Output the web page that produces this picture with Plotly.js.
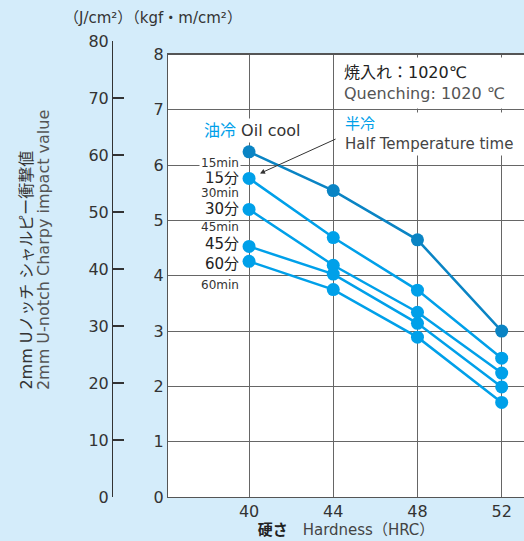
<!DOCTYPE html>
<html>
<head>
<meta charset="utf-8">
<script src="https://cdn.plot.ly/plotly-3.0.1.min.js"></script>
<style>html,body{margin:0;padding:0;background:#d4ecfa;}#chart{width:524px;height:541px;}</style>
</head>
<body>
<div id="chart"></div>
<script>
// Data (hardness HRC vs Charpy impact value kgf·m/cm²)
const hardness = [40, 44, 48, 52];
const oilCool = [6.24, 5.54, 4.65, 3.0];
const half15 = [5.76, 4.69, 3.74, 2.51];
const half30 = [5.2, 4.19, 3.34, 2.24];
const half45 = [4.53, 4.03, 3.14, 1.99];
const half60 = [4.26, 3.75, 2.89, 1.71];
const halfSeries = [half15, half30, half45, half60];
const halfNames = ['15分', '30分', '45分', '60分'];
const minNames = ['15min', '30min', '45min', '60min'];
const xTicks = [40, 44, 48, 52];
const yTicksKgf = [0, 1, 2, 3, 4, 5, 6, 7, 8];
const yTicksJ = [0, 10, 20, 30, 40, 50, 60, 70, 80];

const FONT = 'DejaVu Sans, Noto Sans CJK JP, sans-serif';
const HALF_C = '#00a0e9';
const OIL_C = '#0a84c4';

const traces = [];
halfSeries.forEach((s, i) => {
  traces.push({
    x: hardness, y: s, type: 'scatter', mode: 'lines+markers',
    name: halfNames[i], showlegend: false, hoverinfo: 'skip',
    line: {color: HALF_C, width: 2.5}, marker: {color: HALF_C, size: 13}
  });
});
traces.push({
  x: hardness, y: oilCool, type: 'scatter', mode: 'lines+markers',
  name: '油冷', showlegend: false, hoverinfo: 'skip',
  line: {color: OIL_C, width: 2.5}, marker: {color: OIL_C, size: 13}
});
// dummy trace carrying the J/cm² axis
traces.push({x: [0.5], y: [null], xaxis: 'x2', yaxis: 'y2', type: 'scatter', mode: 'markers', showlegend: false, hoverinfo: 'skip'});

const annotations = [];
annotations.push({xref: 'paper', yref: 'paper', x: 0.118, y: 1.05, xanchor: 'left', yanchor: 'middle',
  text: '（J/cm²）（kgf・m/cm²）', showarrow: false, font: {family: FONT, size: 15, color: '#333'}});
annotations.push({xref: 'paper', yref: 'paper', x: 27/524, y: 0.23, xanchor: 'center', yanchor: 'bottom',
  textangle: -90, text: '2mm Uノッチ シャルピー衝撃値', showarrow: false, font: {family: FONT, size: 16, color: '#333'}});
annotations.push({xref: 'paper', yref: 'paper', x: 43/524, y: 0.23, xanchor: 'center', yanchor: 'bottom',
  textangle: -90, text: '2mm U-notch Charpy impact value', showarrow: false, font: {family: FONT, size: 16, color: '#555'}});
annotations.push({xref: 'x', yref: 'y', x: 44.22, y: 7.49, xanchor: 'left', yanchor: 'middle', align: 'left',
  text: '<span style="color:#222">焼入れ：1020℃</span><br>Quenching: 1020 ℃', showarrow: false,
  bgcolor: 'white', borderpad: 5, font: {family: FONT, size: 16, color: '#555'}});
annotations.push({xref: 'x', yref: 'y', x: 40.14, y: 6.62, xanchor: 'center', yanchor: 'middle',
  text: '<span style="color:' + HALF_C + '">油冷</span> Oil cool', showarrow: false,
  bgcolor: 'white', borderpad: 2, font: {family: FONT, size: 16, color: '#333'}});
annotations.push({xref: 'x', yref: 'y', x: 44.42, y: 6.56, xanchor: 'left', yanchor: 'middle', align: 'left',
  text: '<span style="color:' + HALF_C + '">半冷</span><br>Half Temperature time', showarrow: false,
  bgcolor: 'white', borderpad: 2, font: {family: FONT, size: 15, color: '#444'}});
annotations.push({xref: 'x', yref: 'y', x: hardness[0], y: half15[0], ax: 88, ay: -40, text: '',
  showarrow: true, arrowhead: 2, arrowsize: 1, arrowwidth: 1, arrowcolor: '#333', standoff: 12});
const minOffsets = [0.27, 0.30, 0.35, -0.42];
const nameOffsets = [0, 0, 0.04, -0.04];
halfSeries.forEach((s, i) => {
  annotations.push({xref: 'x', yref: 'y', x: 39.62, y: s[0] + nameOffsets[i], xanchor: 'right', yanchor: 'middle',
    text: halfNames[i], showarrow: false, font: {family: FONT, size: 15, color: '#222'}});
  annotations.push({xref: 'x', yref: 'y', x: 39.62, y: s[0] + minOffsets[i], xanchor: 'right', yanchor: 'middle',
    text: minNames[i], showarrow: false, bgcolor: i === 0 ? 'white' : 'rgba(0,0,0,0)', borderpad: 1,
    font: {family: FONT, size: 12, color: '#333'}});
});

const layout = {
  width: 524, height: 541,
  margin: {l: 0, r: 0, t: 41, b: 44},
  paper_bgcolor: '#d4ecfa', plot_bgcolor: 'rgba(0,0,0,0)',
  showlegend: false,
  xaxis: {
    domain: [168/524, 1], range: [36.15, 53.06], anchor: 'y',
    tickvals: xTicks, ticks: '', showgrid: true, gridcolor: '#666', gridwidth: 1,
    zeroline: false, showline: true, linecolor: '#555', linewidth: 1.2, mirror: true,
    tickfont: {family: FONT, size: 16, color: '#333'}, ticklabelstandoff: 0,
    title: {text: '<b style="color:#222">硬さ</b>　Hardness（HRC）', font: {family: FONT, size: 15, color: '#444'}, standoff: 4}
  },
  yaxis: {
    domain: [0, (497 - 54.5) / 456], range: [0, 8], anchor: 'x',
    tickvals: yTicksKgf, ticks: '', showgrid: true, gridcolor: '#666', gridwidth: 1,
    zeroline: false, showline: true, linecolor: '#555', linewidth: 1.2,
    tickfont: {family: FONT, size: 16, color: '#333'}
  },
  xaxis2: {domain: [0, 0.1], range: [0, 1], anchor: 'y2', visible: false, showgrid: false, zeroline: false},
  yaxis2: {
    domain: [0, 1], range: [0, 80], anchor: 'free', position: 112/524,
    tickvals: yTicksJ, ticks: 'inside', ticklen: 11, tickcolor: '#333', tickwidth: 1.3,
    showgrid: false, zeroline: false, showline: true, linecolor: '#333', linewidth: 1.3,
    tickfont: {family: FONT, size: 16, color: '#333'}
  },
  shapes: [{type: 'rect', xref: 'x domain', yref: 'y domain', x0: 0, x1: 1, y0: 0, y1: 1,
    fillcolor: 'white', line: {width: 0}, layer: 'below'}],
  annotations: annotations
};

Plotly.newPlot('chart', traces, layout, {staticPlot: true, displayModeBar: false});
</script>
</body>
</html>
